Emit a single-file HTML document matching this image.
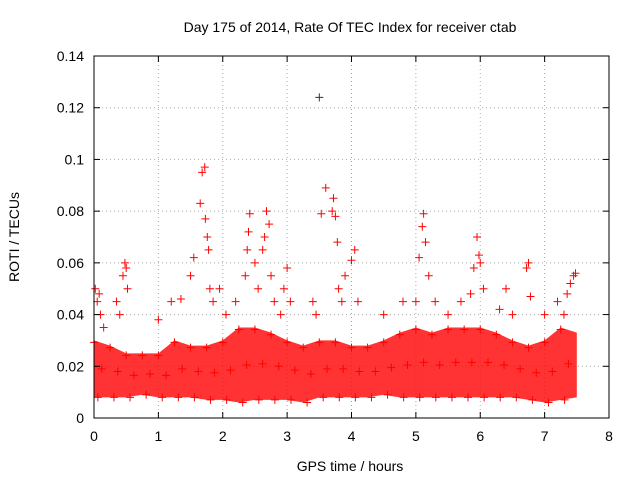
<!DOCTYPE html>
<html><head><meta charset="utf-8"><style>
body{margin:0;background:#fff;}
svg{display:block;font-family:"Liberation Sans",sans-serif;}
</style></head><body>
<svg id="chart" width="640" height="480" viewBox="0 0 640 480">
<text x="350" y="32" font-size="14" text-anchor="middle" fill="#000">Day 175 of 2014, Rate Of TEC Index for receiver ctab</text>
<text x="350" y="471" font-size="14" text-anchor="middle">GPS time / hours</text>
<text transform="translate(19,237) rotate(-90)" font-size="14" text-anchor="middle">ROTI / TECUs</text>
<g id="grid"></g><g id="band"></g><g id="pts"></g><g id="axes"></g>
</svg>
<script>
const xTicks=[0,1,2,3,4,5,6,7,8];
const yTicks=[0,0.02,0.04,0.06,0.08,0.1,0.12,0.14];
const yTickLabels=["0","0.02","0.04","0.06","0.08","0.1","0.12","0.14"];
const binTimes=[0,0.25,0.5,0.75,1,1.25,1.5,1.75,2,2.25,2.5,2.75,3,3.25,3.5,3.75,4,4.25,4.5,4.75,5,5.25,5.5,5.75,6,6.25,6.5,6.75,7,7.25,7.5];
const bandHigh=[0.03,0.028,0.025,0.025,0.025,0.03,0.028,0.028,0.03,0.035,0.035,0.033,0.03,0.028,0.03,0.03,0.028,0.028,0.03,0.033,0.035,0.033,0.035,0.035,0.035,0.033,0.03,0.028,0.03,0.035,0.033];
const bandLow=[0.008,0.008,0.008,0.009,0.008,0.008,0.008,0.007,0.007,0.006,0.007,0.007,0.007,0.006,0.008,0.008,0.008,0.008,0.009,0.008,0.008,0.008,0.008,0.008,0.008,0.008,0.008,0.007,0.006,0.007,0.008];
const outT=[0.02,0.05,0.08,0.1,0.15,0.35,0.45,0.48,0.5,0.52,0.4,1.0,1.2,1.35,1.5,1.55,1.65,1.68,1.72,1.73,1.76,1.78,1.8,1.85,1.95,2.05,2.2,2.35,2.38,2.4,2.42,2.5,2.55,2.62,2.65,2.68,2.72,2.75,2.8,2.9,2.95,3.0,3.05,3.4,3.45,3.5,3.53,3.6,3.7,3.72,3.75,3.78,3.8,3.85,3.9,4.0,4.05,4.1,4.5,4.8,5.0,5.05,5.1,5.12,5.15,5.2,5.3,5.5,5.7,5.85,5.9,5.95,5.98,6.0,6.05,6.3,6.4,6.5,6.72,6.75,6.78,7.0,7.2,7.3,7.35,7.4,7.45,7.48];
const outV=[0.05,0.045,0.048,0.04,0.035,0.045,0.055,0.06,0.058,0.05,0.04,0.038,0.045,0.046,0.055,0.062,0.083,0.095,0.097,0.077,0.07,0.065,0.05,0.045,0.05,0.04,0.045,0.055,0.065,0.072,0.079,0.06,0.05,0.065,0.07,0.08,0.075,0.055,0.045,0.04,0.05,0.058,0.045,0.045,0.04,0.124,0.079,0.089,0.08,0.085,0.078,0.068,0.05,0.045,0.055,0.061,0.065,0.045,0.04,0.045,0.045,0.062,0.074,0.079,0.068,0.055,0.045,0.04,0.045,0.048,0.058,0.07,0.063,0.06,0.05,0.042,0.05,0.04,0.058,0.06,0.047,0.04,0.045,0.04,0.048,0.052,0.055,0.056];
const NS="http://www.w3.org/2000/svg";
const X0=94,X1=609,Y0=418,Y1=56;
const xs=v=>X0+(v/8)*(X1-X0);
const ys=v=>Y0-(v/0.14)*(Y0-Y1);
function mk(tag,attrs,parent){const e=document.createElementNS(NS,tag);for(const k in attrs)e.setAttribute(k,attrs[k]);parent.appendChild(e);return e;}
const grid=document.getElementById('grid'),axes=document.getElementById('axes'),band=document.getElementById('band'),pts=document.getElementById('pts');
xTicks.forEach(t=>{
  if(t>0&&t<8){const l=mk('line',{x1:xs(t),x2:xs(t),y1:Y0,y2:Y1,stroke:'#aaa','stroke-dasharray':'1,3'},grid);
  
  }
  const tx=mk('text',{x:xs(t),y:Y0+23,'font-size':14,'text-anchor':'middle'},axes);tx.textContent=t;
  
  
  mk('line',{x1:xs(t),x2:xs(t),y1:Y0,y2:Y0-6,stroke:'#000'},axes);
  mk('line',{x1:xs(t),x2:xs(t),y1:Y1,y2:Y1+6,stroke:'#000'},axes);
});
yTicks.forEach((t,i)=>{
  if(t>0&&t<0.14){const l=mk('line',{x1:X0,x2:X1,y1:ys(t),y2:ys(t),stroke:'#aaa','stroke-dasharray':'1,3'},grid);
  
  }
  const tx=mk('text',{x:X0-10,y:ys(t)+5,'font-size':14,'text-anchor':'end'},axes);tx.textContent=yTickLabels[i];
  
  
  mk('line',{x1:X0,x2:X0+6,y1:ys(t),y2:ys(t),stroke:'#000'},axes);
  mk('line',{x1:X1,x2:X1-6,y1:ys(t),y2:ys(t),stroke:'#000'},axes);
});
const frame=mk('rect',{x:X0,y:Y1,width:X1-X0,height:Y0-Y1,fill:'none',stroke:'#000'},axes);


let d='M'+binTimes.map((t,i)=>xs(t)+','+ys(bandHigh[i])).join('L');
for(let i=binTimes.length-1;i>=0;i--)d+='L'+xs(binTimes[i])+','+ys(bandLow[i]);
const bp=mk('path',{d:d+'Z',fill:'#f00','fill-opacity':0.8},band);


function plus(x,y,c){mk('path',{d:`M${x-4},${y}h8M${x},${y-4}v8`,stroke:c,'stroke-width':1},pts);}
binTimes.forEach((t,i)=>{
  if(t>7.45)return;
  plus(xs(t),ys(bandHigh[i])+2,'#f00');
  plus(xs(t+0.12),ys((bandHigh[i]+bandLow[i])/2),'#f00');
  plus(xs(t+0.06),ys(bandLow[i]),'#f00');
});
outT.forEach((t,i)=>{
  const g=document.createElementNS(NS,'g');pts.appendChild(g);
  
  
  const x=xs(t),y=ys(outV[i]);
  mk('path',{d:`M${x-4},${y}h8M${x},${y-4}v8`,stroke:(outV[i]>0.1?'#333':'#f00')},g);
});
</script>
</body></html>
